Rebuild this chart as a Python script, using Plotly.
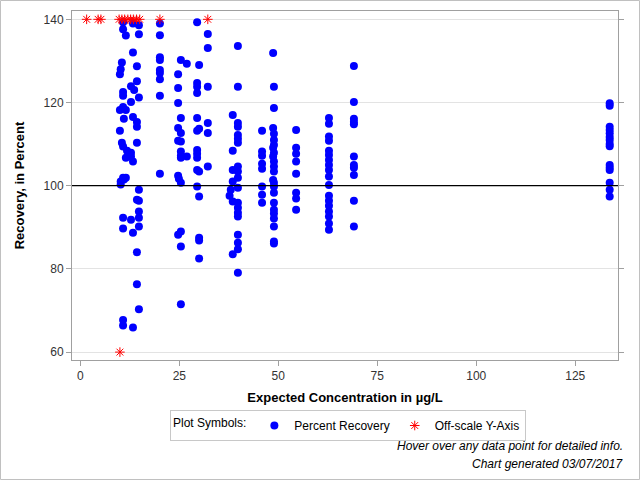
import plotly.graph_objects as go

# ---- data ----
conc_pts = [
    10.8, 13.3, 14.8, 10.8, 11.5, 14.8, 13.3, 10.5, 14.3, 10.2, 10.0, 14.3, 12.8, 13.6, 10.8, 10.8, 14.8, 12.8,
    10.8, 10.0, 11.5, 11.0, 13.3, 14.3, 14.3, 10.0, 10.5, 14.3, 10.8, 11.8, 12.8, 12.8, 11.5, 13.3, 10.8, 11.5,
    10.2, 10.2, 11.0, 14.8, 14.3, 14.8, 14.8, 14.8, 10.8, 12.8, 14.8, 10.8, 13.3, 14.3, 14.3, 14.8, 10.8, 10.8, 13.3,
    20.1, 20.1, 20.1, 20.1, 20.1, 20.1, 20.1, 20.1, 20.1,
    25.4, 24.7, 24.7, 24.7, 25.4, 24.7, 25.4, 24.7, 25.4, 25.4, 25.4, 25.4, 24.7, 24.9, 25.4, 25.4, 24.7, 25.4, 25.4,
    26.9, 26.9,
    29.5, 30.0, 29.5, 29.5, 29.5, 29.5, 30.0, 29.5, 29.5, 29.5, 29.5, 29.5, 30.0, 29.5, 30.0, 30.0, 30.0, 30.0,
    32.2, 32.2, 32.2, 32.2, 32.2, 32.2,
    39.8, 39.8, 38.5, 39.8, 39.8, 39.8, 39.8, 39.8, 38.5, 39.8, 38.5, 39.8, 39.8, 38.5, 39.8, 38.0, 37.7, 38.5,
    39.8, 39.8, 39.8, 39.8, 39.8, 39.8, 39.8, 38.5, 39.8,
    45.9, 45.9, 45.9, 45.9, 45.9, 45.9, 45.9, 45.9,
    48.7, 48.9, 48.9, 48.7, 48.9, 48.9, 48.9, 48.7, 48.9, 48.7, 48.9, 48.9, 48.9, 48.7, 48.9, 48.9, 48.9, 48.9,
    48.9, 48.9, 48.9, 48.9, 48.9, 48.9,
    54.5, 54.5, 54.5, 54.5, 54.5, 54.5, 54.5, 54.5,
    62.8, 62.8, 62.8, 62.8, 62.8, 62.8, 62.8, 62.8, 62.8, 62.8, 62.8, 62.8, 62.8, 62.8, 62.8, 62.8, 62.8, 62.8,
    69.1, 69.1, 69.1, 69.1, 69.1, 69.1, 69.1, 69.1, 69.1, 69.1, 69.1,
    133.7, 133.7, 133.7, 133.7, 133.7, 133.7, 133.7, 133.7, 133.7, 133.7, 133.7, 133.7, 133.7, 133.7, 133.7,
]
recovery_pts = [
    139.3, 139.0, 138.6, 137.6, 136.1, 136.4, 132.0, 129.6, 128.7, 128.0, 126.8, 125.1, 123.9, 123.0, 122.5, 121.6, 121.2, 120.1,
    118.9, 118.2, 118.2, 116.1, 116.5, 115.3, 114.2, 113.2, 110.3, 110.3, 109.4, 108.4, 107.9, 107.0, 106.7, 105.8, 101.9, 101.9,
    101.0, 100.3, 101.5, 99.0, 96.6, 96.4, 93.8, 92.3, 92.3, 91.8, 90.2, 89.7, 88.7, 84.0, 76.3, 70.3, 67.7, 66.4, 65.9,
    139.0, 136.2, 130.9, 130.2, 127.8, 127.1, 125.6, 121.6, 102.9,
    130.2, 126.8, 123.5, 119.9, 116.3, 113.9, 112.7, 110.8, 110.6, 108.2, 107.2, 106.7, 102.4, 101.7, 100.7, 89.0, 88.2, 85.4, 71.5,
    129.3, 107.0,
    139.3, 129.0, 124.7, 123.8, 122.3, 116.3, 113.7, 113.2, 108.6, 107.7, 106.7, 103.8, 103.4, 99.8, 97.4, 87.5, 86.8, 82.5,
    136.5, 133.1, 123.8, 115.1, 112.7, 104.6,
    133.6, 123.8, 117.0, 115.1, 114.2, 112.2, 111.3, 110.3, 108.4, 104.6, 103.8, 103.4, 101.9, 101.0, 99.5, 99.0, 97.6, 96.2,
    95.9, 94.7, 93.5, 92.6, 88.2, 86.3, 84.7, 83.5, 79.1,
    113.2, 108.2, 107.2, 105.3, 104.1, 99.8, 97.8, 95.9,
    131.9, 123.8, 118.7, 113.9, 112.5, 111.0, 109.8, 109.1, 107.9, 107.0, 105.8, 104.6, 103.4, 101.4, 100.7, 99.8, 98.3, 95.9,
    94.2, 93.3, 92.1, 90.2, 86.6, 86.1,
    113.4, 109.1, 107.7, 105.8, 102.9, 98.3, 96.9, 94.2,
    116.3, 114.9, 111.8, 110.8, 108.4, 107.4, 106.2, 105.0, 103.8, 102.2, 100.2, 97.6, 96.4, 95.2, 93.8, 92.6, 90.9, 89.4,
    128.8, 120.1, 116.1, 115.3, 114.8, 107.0, 105.0, 104.3, 102.6, 96.4, 90.2,
    119.8, 119.2, 114.2, 113.4, 112.6, 111.7, 111.0, 110.0, 109.5, 105.0, 104.3, 103.8, 100.7, 99.0, 97.4,
]
offscale_conc = [1.6, 4.5, 5.2, 9.8, 10.5, 11.2, 12.0, 12.7, 13.4, 14.2, 15.0, 20.1, 32.2, 10.0]
offscale_recovery = [140, 140, 140, 140, 140, 140, 140, 140, 140, 140, 140, 140, 140, 60]

x_ticks = [0, 25, 50, 75, 100, 125]
y_ticks = [60, 80, 100, 120, 140]
x_title = "Expected Concentration in µg/L"
y_title = "Recovery, in Percent"
legend_title = "Plot Symbols:"
footnotes = ["Hover over any data point for detailed info.", "Chart generated 03/07/2017"]

FONT = "Liberation Sans, Arial, sans-serif"

fig = go.Figure()
fig.add_trace(go.Scatter(
    x=conc_pts, y=recovery_pts, mode="markers", name="Percent Recovery",
    marker=dict(symbol="circle", size=8, color="#0000ff", line=dict(width=0)),
    hovertemplate="Concentration: %{x} µg/L<br>Recovery: %{y}%<extra></extra>",
))
fig.add_trace(go.Scatter(
    x=offscale_conc, y=offscale_recovery, mode="markers", name="Off-scale Y-Axis",
    marker=dict(symbol="asterisk-open", size=8, color="#ff0000", line=dict(width=1, color="#ff0000")),
    cliponaxis=False,
    hovertemplate="Concentration: %{x} µg/L<br>Off-scale<extra></extra>",
))

# reference line at 100 %
fig.add_shape(type="line", xref="paper", x0=0, x1=1, yref="y", y0=100, y1=100,
              line=dict(color="black", width=1.2))

W, H = 640, 480
L, R, T, B = 72, 22, 11, 120
pw, ph = W - L - R, H - T - B


def px_x(px):
    return (px - L) / pw


def px_y(py):
    return (T + ph - py) / ph


# outer frame of the whole picture
fig.add_shape(type="rect", xref="paper", yref="paper",
              x0=px_x(0.5), x1=px_x(W - 0.5), y0=px_y(H - 0.5), y1=px_y(0.5),
              line=dict(color="#c0c0c0", width=1), layer="below")

for i, txt in enumerate(footnotes):
    fig.add_annotation(text="<i>" + txt + "</i>", xref="paper", yref="paper",
                       x=px_x(625), y=px_y(446 + 18 * i), xanchor="right", yanchor="middle",
                       showarrow=False, font=dict(family=FONT, size=12, color="black"))

fig.update_layout(
    width=W, height=H,
    margin=dict(l=L, r=R, t=T, b=B, autoexpand=False),
    paper_bgcolor="white", plot_bgcolor="white",
    font=dict(family=FONT, size=12, color="black"),
    showlegend=True,
    legend=dict(
        orientation="h", x=px_x(348), xanchor="center", y=px_y(410), yanchor="top",
        title=dict(text=legend_title, side="left", font=dict(size=12)),
        bordercolor="#c8c8c8", borderwidth=1, bgcolor="white",
        font=dict(family=FONT, size=12), itemsizing="trace",
        tracegroupgap=0, itemwidth=30,
    ),
    hovermode="closest",
)
fig.update_xaxes(
    range=[-2.1, 135.8], tickvals=x_ticks, ticks="outside", ticklen=5, tickcolor="#a0a0a0",
    showline=True, linecolor="#a0a0a0", linewidth=1, mirror=True,
    showgrid=False, zeroline=False,
    tickfont=dict(size=12, color="#333333"),
    title=dict(text="<b>" + x_title + "</b>", font=dict(size=13), standoff=10),
)
fig.update_yaxes(
    range=[58.1, 142.0], tickvals=y_ticks, ticks="outside", ticklen=5, tickcolor="#a0a0a0",
    showline=True, linecolor="#a0a0a0", linewidth=1, mirror="ticks",
    showgrid=True, gridcolor="#e3e3e3", gridwidth=1, zeroline=False,
    tickfont=dict(size=12, color="#333333"),
    title=dict(text="<b>" + y_title + "</b>", font=dict(size=13), standoff=16),
)

fig.write_html("out.html", config={"displayModeBar": False},
               post_script="document.body.style.margin='0';")
